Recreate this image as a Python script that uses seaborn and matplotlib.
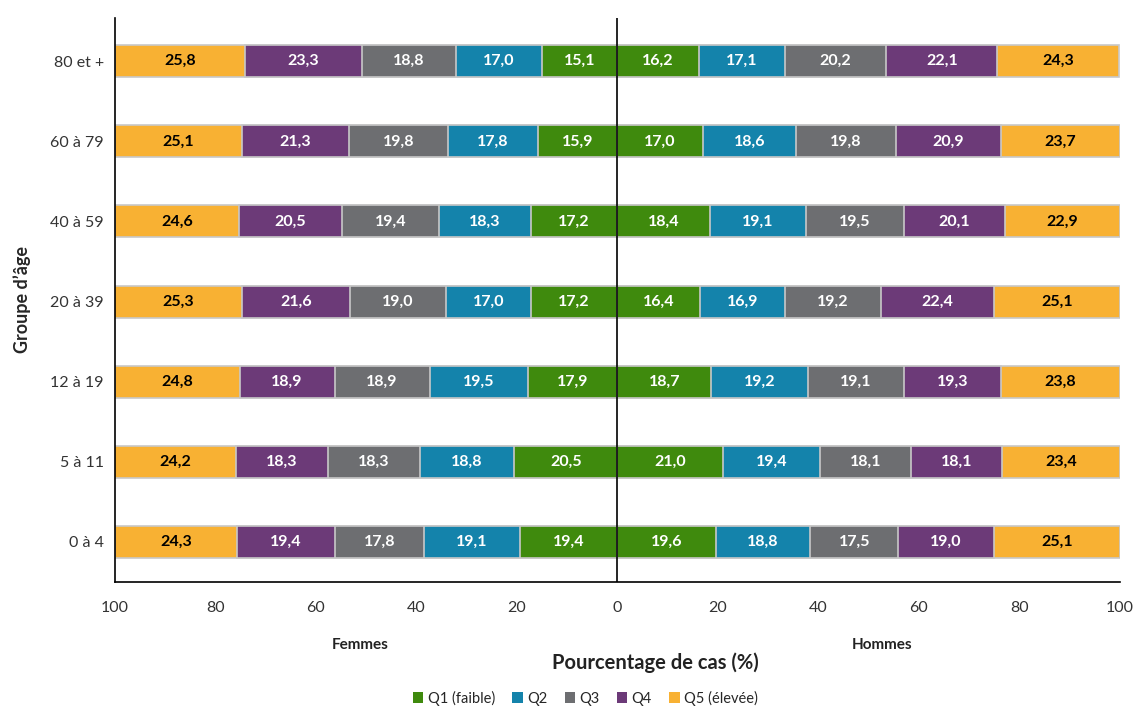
import numpy as np
import pandas as pd
import matplotlib.pyplot as plt
import seaborn as sns
from matplotlib.patches import Patch

# age groups, top to bottom
groups = ["80 et +", "60 à 79", "40 à 59", "20 à 39", "12 à 19", "5 à 11", "0 à 4"]
quintiles = ["Q1 (faible)", "Q2", "Q3", "Q4", "Q5 (élevée)"]

# Femmes, columns Q1..Q5
femmes = [
    [15.1, 17.0, 18.8, 23.3, 25.8],
    [15.9, 17.8, 19.8, 21.3, 25.1],
    [17.2, 18.3, 19.4, 20.5, 24.6],
    [17.2, 17.0, 19.0, 21.6, 25.3],
    [17.9, 19.5, 18.9, 18.9, 24.8],
    [20.5, 18.8, 18.3, 18.3, 24.2],
    [19.4, 19.1, 17.8, 19.4, 24.3],
]

# Hommes, columns Q1..Q5
hommes = [
    [16.2, 17.1, 20.2, 22.1, 24.3],
    [17.0, 18.6, 19.8, 20.9, 23.7],
    [18.4, 19.1, 19.5, 20.1, 22.9],
    [16.4, 16.9, 19.2, 22.4, 25.1],
    [18.7, 19.2, 19.1, 19.3, 23.8],
    [21.0, 19.4, 18.1, 18.1, 23.4],
    [19.6, 18.8, 17.5, 19.0, 25.1],
]

colors = ["#3f8a0d", "#1483ab", "#6d6e71", "#6c3a78", "#f8b133"]
text_colors = ["white", "white", "white", "white", "black"]

sns.set_style("white")
plt.rcParams["font.family"] = ["Lato", "DejaVu Sans"]

fig = plt.figure(figsize=(11.37, 7.08), dpi=100)
ax = fig.add_axes([0.1011, 0.178, 0.8839, 0.7966])

fem = np.array(femmes)
hom = np.array(hommes)

# draw cumulative layers from outermost to innermost so each segment shows
for sign, arr in [(-1, fem), (1, hom)]:
    cum = np.cumsum(arr, axis=1)
    for q in range(4, -1, -1):
        df = pd.DataFrame({"groupe": groups, "val": sign * cum[:, q]})
        sns.barplot(data=df, x="val", y="groupe", order=groups, orient="h",
                    color=colors[q], width=0.4, edgecolor="#c8c8c8",
                    linewidth=1.2, saturation=1, ax=ax)
    # labels at segment centres
    starts = cum - arr
    for i in range(len(groups)):
        for q in range(5):
            xc = sign * (starts[i, q] + arr[i, q] / 2)
            ax.text(xc, i, f"{arr[i, q]:.1f}".replace(".", ","),
                    ha="center", va="center", fontsize=11.5, fontweight="bold",
                    color=text_colors[q])

ax.axvline(0, color="black", linewidth=1.2)
ax.set_xlim(-100, 100)
ax.set_ylim(6.5, -0.54)
ticks = np.arange(-100, 101, 20)
ax.set_xticks(ticks)
ax.set_xticklabels([str(abs(t)) for t in ticks], fontsize=11.5, color="#333333")
ax.tick_params(axis="y", labelsize=11.5, colors="#333333", length=0, pad=8)
ax.tick_params(axis="x", length=0, pad=14)
ax.set_xlabel("")
ax.set_ylabel("Groupe d’âge", fontsize=13, fontweight="bold", labelpad=14)

for s in ["top", "right"]:
    ax.spines[s].set_visible(False)
for s in ["left", "bottom"]:
    ax.spines[s].set_color("black")
    ax.spines[s].set_linewidth(1.2)

fig.text(0.317, 0.089, "Femmes", ha="center", va="center", fontsize=11, fontweight="bold", color="#222222")
fig.text(0.776, 0.089, "Hommes", ha="center", va="center", fontsize=11, fontweight="bold", color="#222222")
fig.text(0.576, 0.064, "Pourcentage de cas (%)", ha="center", va="center", fontsize=14.5, fontweight="bold", color="#222222")

handles = [Patch(facecolor=c, edgecolor="none") for c in colors]
fig.legend(handles, quintiles, loc="center", bbox_to_anchor=(0.515, 0.014), ncol=5,
           frameon=False, fontsize=10.5, handlelength=0.7, handleheight=0.7,
           handletextpad=0.3, columnspacing=1.2)

fig.savefig("out.png", dpi=100)
